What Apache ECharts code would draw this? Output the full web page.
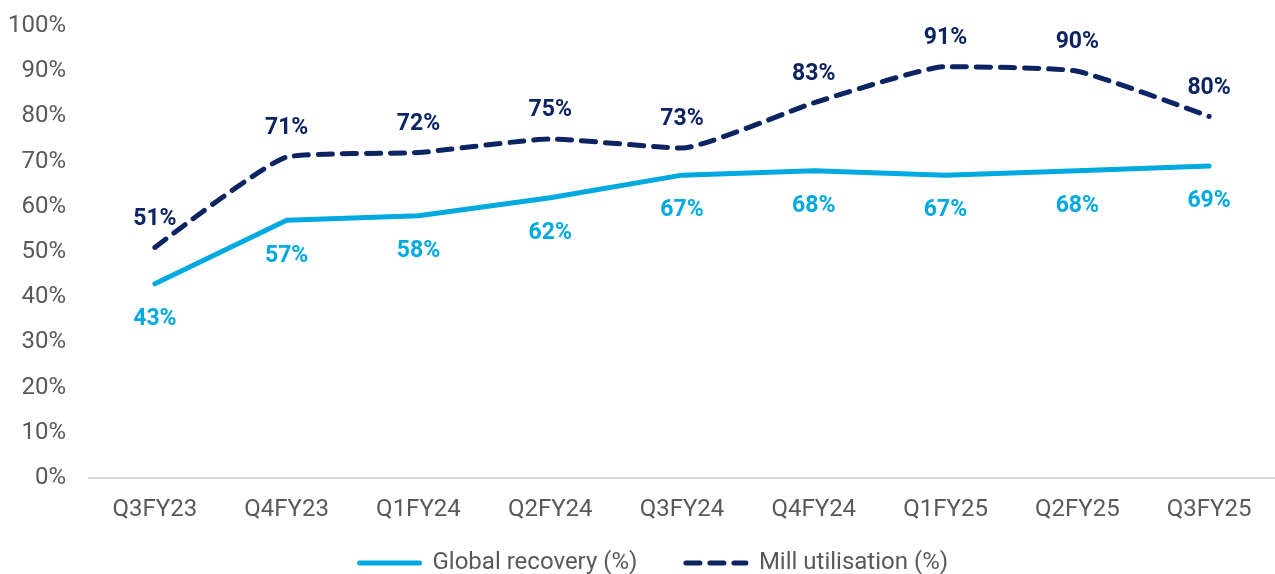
<!DOCTYPE html>
<html>
<head>
<meta charset="utf-8">
<script src="https://cdn.jsdelivr.net/npm/echarts@6/dist/echarts.min.js"></script>
<style>
  html, body { margin: 0; padding: 0; background: #fff; }
  #chart { width: 1275px; height: 574px; }
</style>
</head>
<body>
<div id="chart"></div>
<script>
var quarters = ['Q3FY23', 'Q4FY23', 'Q1FY24', 'Q2FY24', 'Q3FY24', 'Q4FY24', 'Q1FY25', 'Q2FY25', 'Q3FY25'];
var globalRecovery = [43, 57, 58, 62, 67, 68, 67, 68, 69];
var millUtilisation = [51, 71, 72, 75, 73, 83, 91, 90, 80];

var lightBlue = '#00a9e0';
var navy = '#0c2461';

var myChart = echarts.init(document.getElementById('chart'));
var option = {
    textStyle: { fontFamily: 'Roboto' },
    grid: {
        left: 89,
        right: -3,
        top: 26,
        bottom: 96
    },
    legend: {
        bottom: -6,
        left: 352,
        itemWidth: 60,
        itemHeight: 14,
        itemGap: 46,
        itemStyle: { opacity: 0 },
        lineStyle: { width: 5 },
        textStyle: {
            color: '#595959',
            fontSize: 24,
            fontFamily: 'Roboto',
            padding: [0, 0, 0, 8]
        },
        data: ['Global recovery (%)', 'Mill utilisation (%)']
    },
    xAxis: {
        type: 'category',
        data: quarters,
        axisLine: {
            lineStyle: { color: '#d9d9d9', width: 2 }
        },
        axisTick: { show: false },
        axisLabel: {
            color: '#595959',
            fontSize: 24,
            margin: 20
        }
    },
    yAxis: {
        type: 'value',
        min: 0,
        max: 100,
        interval: 10,
        axisLine: { show: false },
        axisTick: { show: false },
        splitLine: { show: false },
        axisLabel: {
            color: '#595959',
            fontSize: 24,
            margin: 23,
            formatter: '{value}%'
        }
    },
    series: [
        {
            name: 'Global recovery (%)',
            type: 'line',
            data: globalRecovery,
            symbol: 'circle',
            symbolSize: 0,
            lineStyle: { color: lightBlue, width: 5, cap: 'round' },
            itemStyle: { color: lightBlue },
            label: {
                show: true,
                position: 'bottom',
                distance: 24,
                color: lightBlue,
                fontSize: 23,
                fontWeight: 'bold',
                formatter: '{c}%'
            }
        },
        {
            name: 'Mill utilisation (%)',
            type: 'line',
            data: millUtilisation,
            symbol: 'circle',
            symbolSize: 0,
            smooth: 0.15,
            lineStyle: { color: navy, width: 5, type: [14, 10], cap: 'round' },
            itemStyle: { color: navy },
            label: {
                show: true,
                position: 'top',
                distance: 17,
                color: navy,
                fontSize: 23,
                fontWeight: 'bold',
                formatter: '{c}%'
            }
        }
    ]
};
myChart.setOption(option);
</script>
</body>
</html>
